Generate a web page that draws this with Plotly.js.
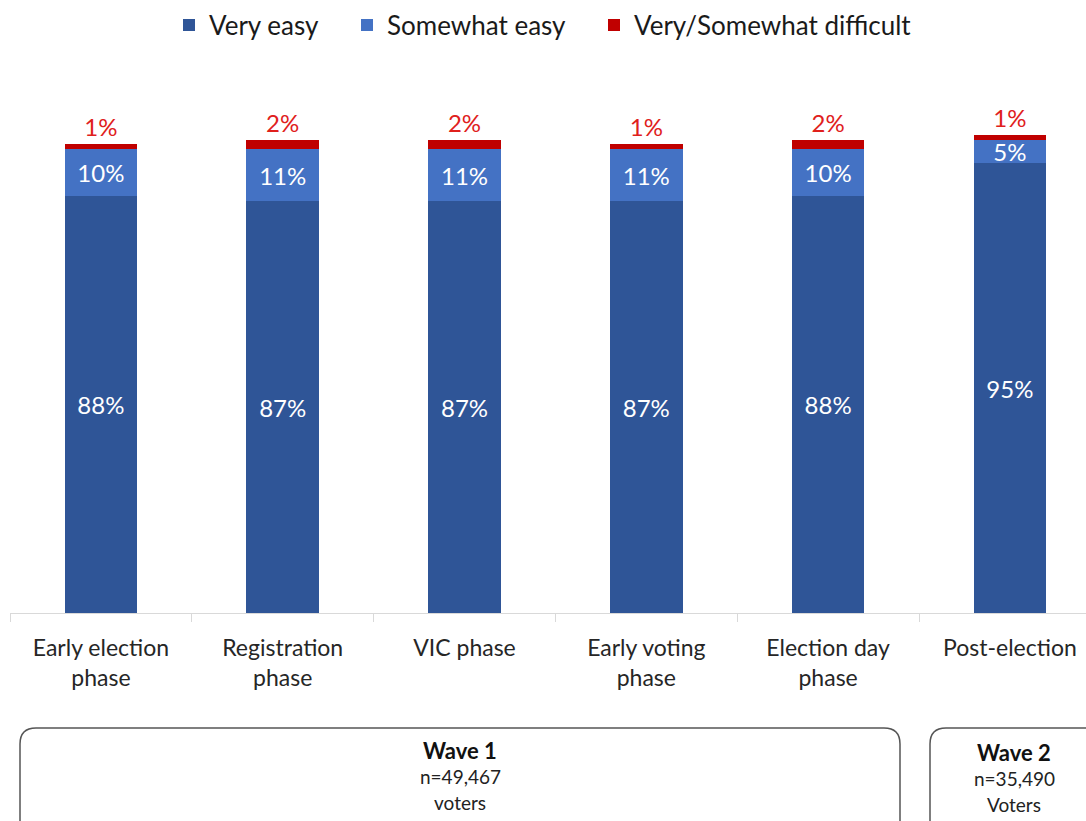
<!DOCTYPE html>
<html>
<head>
<meta charset="utf-8">
<script src="https://cdn.plot.ly/plotly-3.0.1.min.js"></script>
<style>html,body{margin:0;padding:0;background:#fff;}#chart{width:1086px;height:821px;}</style>
</head>
<body>
<div id="chart"></div>
<script>
const categories = ['Early election<br>phase', 'Registration<br>phase', 'VIC phase', 'Early voting<br>phase', 'Election day<br>phase', 'Post-election'];
const veryEasy = [88, 87, 87, 87, 88, 95];
const somewhatEasy = [10, 11, 11, 11, 10, 5];
const difficult = [1, 2, 2, 1, 2, 1];
const seriesNames = ['Very easy', 'Somewhat easy', 'Very/Somewhat difficult'];
const waveTitles = ['Wave 1', 'Wave 2'];
const waveSizes = ['n=49,467', 'n=35,490'];
const waveUnits = ['voters', 'Voters'];

const FONT = 'Lato, "Open Sans", sans-serif';
const W = 1086, H = 821, L = 10, R = 0, T = 116, B = 208;
const pw = W - L - R, ph = H - T - B;
const px = x => (x - L) / pw;
const py = y => (H - B - y) / ph;

function roundBox(x0, y0, x1, y1, r) {
  const rx = r / pw, ry = r / ph;
  const X0 = px(x0), X1 = px(x1), Y0 = py(y0), Y1 = py(y1);
  return `M${X0 + rx},${Y0} L${X1 - rx},${Y0} Q${X1},${Y0} ${X1},${Y0 - ry} L${X1},${Y1 + ry} Q${X1},${Y1} ${X1 - rx},${Y1} L${X0 + rx},${Y1} Q${X0},${Y1} ${X0},${Y1 + ry} L${X0},${Y0 - ry} Q${X0},${Y0} ${X0 + rx},${Y0} Z`;
}

const traces = [
  {type: 'bar', name: seriesNames[0], x: categories, y: veryEasy, legend: 'legend',
   marker: {color: '#2F5597'}, texttemplate: '%{y}%', textposition: 'inside',
   insidetextanchor: 'middle', constraintext: 'none',
   textfont: {family: FONT, size: 24, color: '#ffffff'}, hoverinfo: 'skip'},
  {type: 'bar', name: seriesNames[1], x: categories, y: somewhatEasy, legend: 'legend2',
   marker: {color: '#4472C4'}, texttemplate: '%{y}%', textposition: 'inside',
   insidetextanchor: 'middle', constraintext: 'none',
   textfont: {family: FONT, size: 24, color: '#ffffff'}, hoverinfo: 'skip'},
  {type: 'bar', name: seriesNames[2], x: categories, y: difficult, legend: 'legend3',
   marker: {color: '#C00000'}, texttemplate: '%{y}%', textposition: 'outside',
   constraintext: 'none', cliponaxis: false,
   textfont: {family: FONT, size: 24, color: '#E0201C'}, hoverinfo: 'skip'}
];

function ann(x, y, text, size, color) {
  return {xref: 'paper', yref: 'paper', x: px(x), y: py(y), xanchor: 'center', yanchor: 'middle',
          text: text, showarrow: false, font: {family: FONT, size: size, color: color}};
}
function leg(xLeft) {
  return {orientation: 'h', x: px(xLeft), xanchor: 'left', y: py(25), yanchor: 'middle',
          font: {family: FONT, size: 26, color: '#1a1a1a'}, itemwidth: 30, bgcolor: 'rgba(0,0,0,0)'};
}

const layout = {
  width: W, height: H,
  margin: {l: L, r: R, t: T, b: B},
  paper_bgcolor: '#ffffff', plot_bgcolor: '#ffffff',
  barmode: 'stack', bargap: 0.6,
  showlegend: true,
  legend: leg(169), legend2: leg(347), legend3: leg(594),
  font: {family: FONT},
  xaxis: {range: [-0.5, -0.5 + pw / 181.8], showline: true, linecolor: '#d9d9d9', linewidth: 1,
          ticks: 'outside', tickson: 'boundaries', ticklen: 8, tickcolor: '#d9d9d9',
          tickfont: {family: FONT, size: 23, color: '#262626'}, showgrid: false, zeroline: false,
          fixedrange: true, ticklabelstandoff: 14},
  yaxis: {range: [0, 105], visible: false, showgrid: false, zeroline: false, fixedrange: true},
  shapes: [
    {type: 'path', xref: 'paper', yref: 'paper', path: roundBox(20, 728, 900, 860, 16),
     line: {color: '#555555', width: 1.5}, fillcolor: 'rgba(0,0,0,0)'},
    {type: 'path', xref: 'paper', yref: 'paper', path: roundBox(930, 728, 1130, 860, 16),
     line: {color: '#555555', width: 1.5}, fillcolor: 'rgba(0,0,0,0)'}
  ],
  annotations: [
    ann(460, 750, '<b>' + waveTitles[0] + '</b>', 22, '#111'),
    ann(460, 776, waveSizes[0], 19, '#222'),
    ann(460, 802, waveUnits[0], 19, '#222'),
    ann(1014, 752, '<b>' + waveTitles[1] + '</b>', 22, '#111'),
    ann(1014, 778, waveSizes[1], 19, '#222'),
    ann(1014, 804, waveUnits[1], 19, '#222')
  ]
};

Plotly.newPlot('chart', traces, layout, {displayModeBar: false, staticPlot: true});
</script>
</body>
</html>
